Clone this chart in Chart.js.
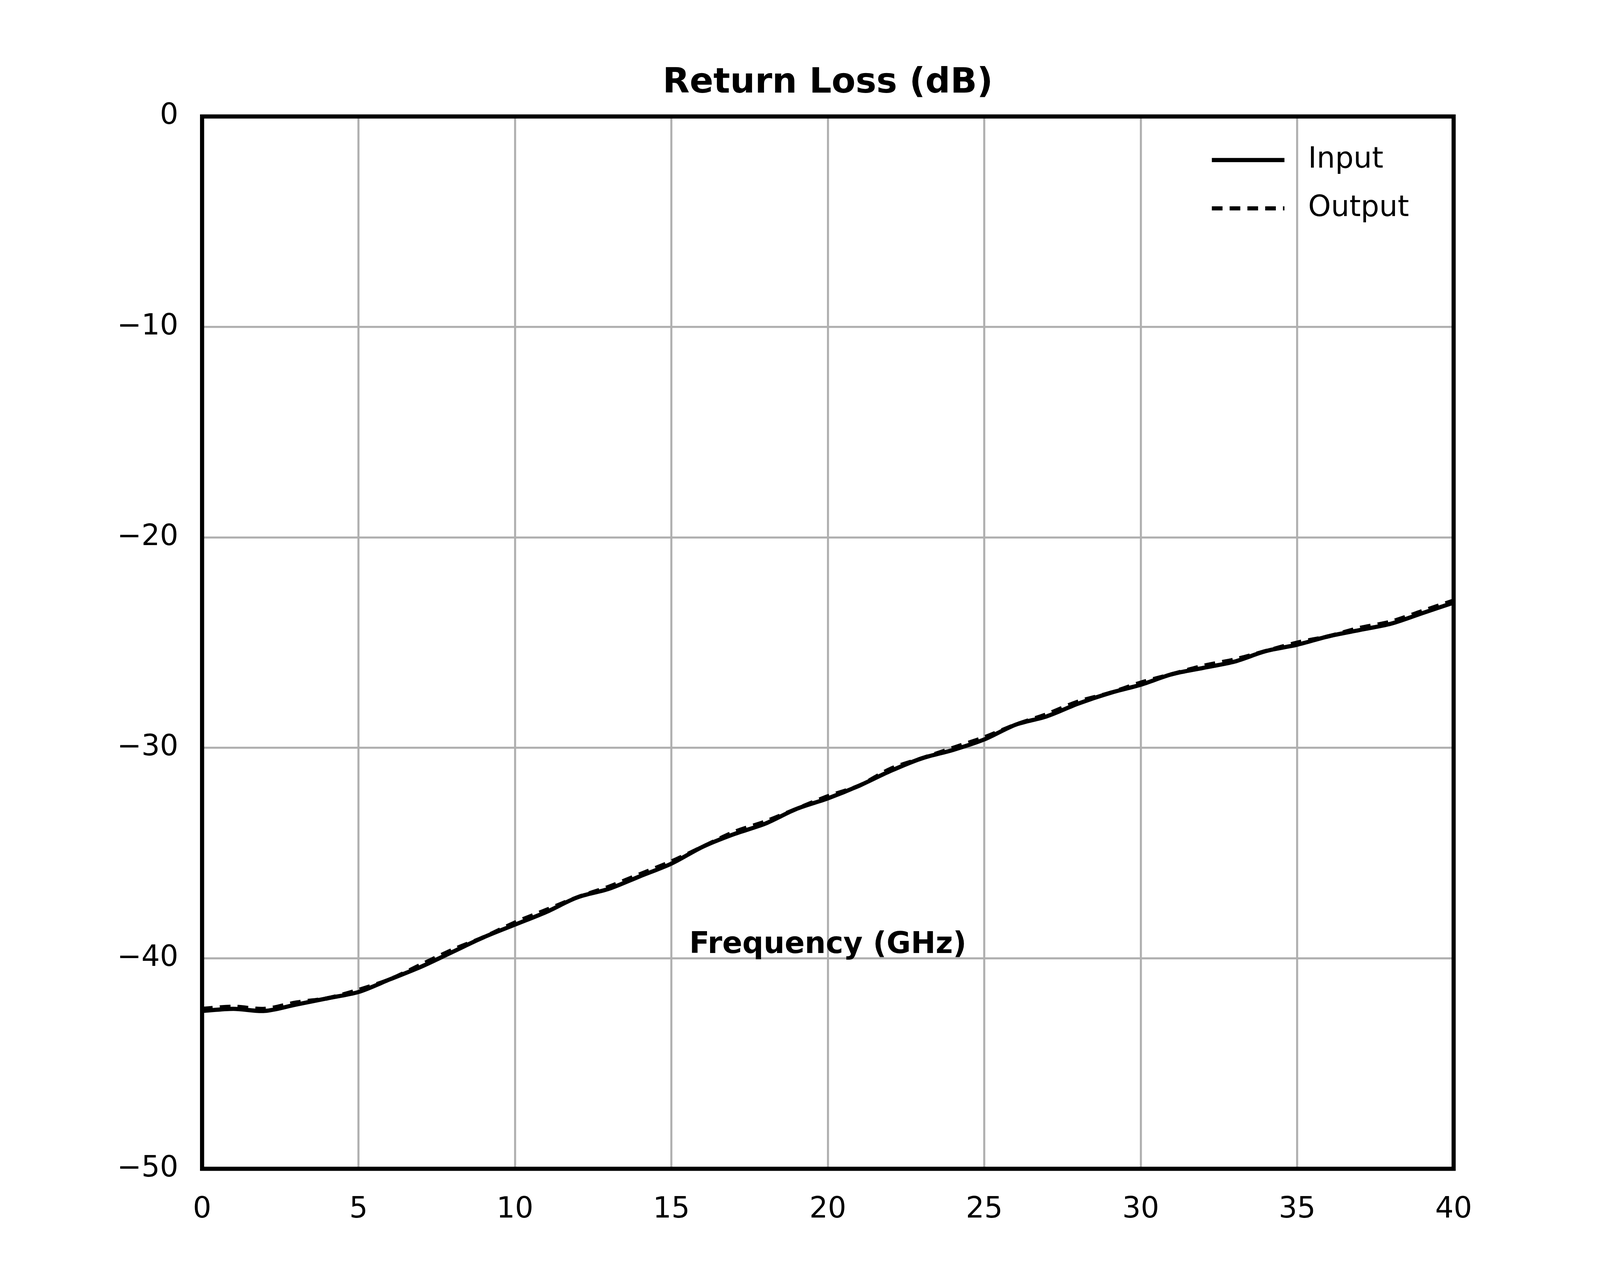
<!DOCTYPE html>
<html>
<head>
<meta charset="utf-8">
<script src="https://cdn.jsdelivr.net/npm/chart.js@4.4.0/dist/chart.umd.min.js"></script>
<style>
  html, body { margin: 0; padding: 0; background: #fff; overflow: hidden; }
  #wrap { position: absolute; left: 0; top: 0; }
</style>
</head>
<body>
<div id="wrap"><canvas id="chart"></canvas></div>
<script>
// Frequency points (GHz)
const freqs = [0, 1, 2, 3, 4, 5, 6, 7, 8, 9, 10, 11, 12, 13, 14, 15, 16, 17, 18, 19, 20,
  21, 22, 23, 24, 25, 26, 27, 28, 29, 30, 31, 32, 33, 34, 35, 36, 37, 38, 39, 40];

// Return loss (dB)
const inputLoss = [-42.5, -42.4, -42.5, -42.2, -41.9, -41.6, -41.0, -40.4, -39.7, -39.0, -38.4,
  -37.8, -37.1, -36.7, -36.1, -35.5, -34.7, -34.1, -33.6, -32.9, -32.4,
  -31.8, -31.1, -30.5, -30.1, -29.6, -28.9, -28.5, -27.9, -27.4, -27.0,
  -26.5, -26.2, -25.9, -25.4, -25.1, -24.7, -24.4, -24.1, -23.6, -23.1];
const outputLoss = [-42.4, -42.3, -42.4, -42.1, -41.9, -41.5, -41.0, -40.3, -39.6, -39.0, -38.3,
  -37.7, -37.1, -36.6, -36.0, -35.4, -34.7, -34.0, -33.5, -32.9, -32.3,
  -31.8, -31.0, -30.5, -30.0, -29.5, -28.9, -28.4, -27.8, -27.4, -26.9,
  -26.5, -26.1, -25.8, -25.4, -25.0, -24.7, -24.3, -24.0, -23.5, -23.0];

const xTicks = [0, 5, 10, 15, 20, 25, 30, 35, 40];
const yTicks = [-50, -40, -30, -20, -10, 0];

const FONT = "'DejaVu Sans', sans-serif";
const minus = (v) => String(v).replace("-", "\u2212");

// scale everything to the actual viewport (design done at 5400 wide)
const W = window.innerWidth || 5400;
const H = window.innerHeight || 3240;
const k = W / 5400;
const wrap = document.getElementById("wrap");
wrap.style.width = W + "px";
wrap.style.height = H + "px";

// title, axis title, frame and legend drawn on top
const overlay = {
  id: "overlay",
  afterDraw(chart) {
    const { ctx, chartArea: a } = chart;
    ctx.save();
    ctx.strokeStyle = "#000";
    ctx.lineWidth = 14 * k;
    ctx.strokeRect(a.left, a.top, a.right - a.left, a.bottom - a.top);

    ctx.fillStyle = "#000";
    ctx.textAlign = "center";
    ctx.textBaseline = "middle";
    ctx.font = "bold " + 118 * k + "px " + FONT;
    ctx.fillText("Return Loss (dB)", (a.left + a.right) / 2, 282 * k);
    ctx.font = "bold " + 100 * k + "px " + FONT;
    ctx.fillText("Frequency (GHz)", (a.left + a.right) / 2, 3190 * k);

    // legend
    const items = [["Input", []], ["Output", [36 * k, 24 * k]]];
    ctx.font = 98 * k + "px " + FONT;
    ctx.textAlign = "left";
    items.forEach(([label, dash], i) => {
      const y = (540 + i * 163) * k;
      ctx.setLineDash(dash);
      ctx.lineWidth = 14 * k;
      ctx.beginPath();
      ctx.moveTo(4090 * k, y);
      ctx.lineTo(4335 * k, y);
      ctx.stroke();
      ctx.setLineDash([]);
      ctx.fillText(label, 4415 * k, y);
    });
    ctx.restore();
  },
};

const ctx = document.getElementById("chart").getContext("2d");
new Chart(ctx, {
  type: "line",
  data: {
    datasets: [
      {
        label: "Input",
        data: freqs.map((f, i) => ({ x: f, y: inputLoss[i] })),
        borderColor: "#000",
        borderWidth: 14 * k,
        pointRadius: 0,
        tension: 0.3,
      },
      {
        label: "Output",
        data: freqs.map((f, i) => ({ x: f, y: outputLoss[i] })),
        borderColor: "#000",
        borderWidth: 14 * k,
        borderDash: [36 * k, 24 * k],
        pointRadius: 0,
        tension: 0.3,
      },
    ],
  },
  options: {
    responsive: true,
    maintainAspectRatio: false,
    animation: false,
    layout: { padding: { top: 393 * k, right: 494 * k, left: 0, bottom: 0 } },
    plugins: { legend: { display: false }, tooltip: { enabled: false } },
    scales: {
      x: {
        type: "linear",
        min: 0,
        max: 40,
        afterFit: (s) => { s.height = 328 * k; },
        afterBuildTicks: (s) => { s.ticks = xTicks.map((v) => ({ value: v })); },
        grid: { color: "#b0b0b0", lineWidth: 7 * k, drawTicks: false },
        border: { display: false },
        ticks: { color: "#000", font: { family: FONT, size: 98 * k }, padding: 80 * k, maxRotation: 0 },
      },
      y: {
        min: -50,
        max: 0,
        afterFit: (s) => { s.width = 682 * k; },
        afterBuildTicks: (s) => { s.ticks = yTicks.map((v) => ({ value: v })); },
        grid: { color: "#b0b0b0", lineWidth: 7 * k, drawTicks: false },
        border: { display: false },
        ticks: { color: "#000", font: { family: FONT, size: 98 * k }, padding: 80 * k, callback: minus },
      },
    },
  },
  plugins: [overlay],
});
</script>
</body>
</html>
